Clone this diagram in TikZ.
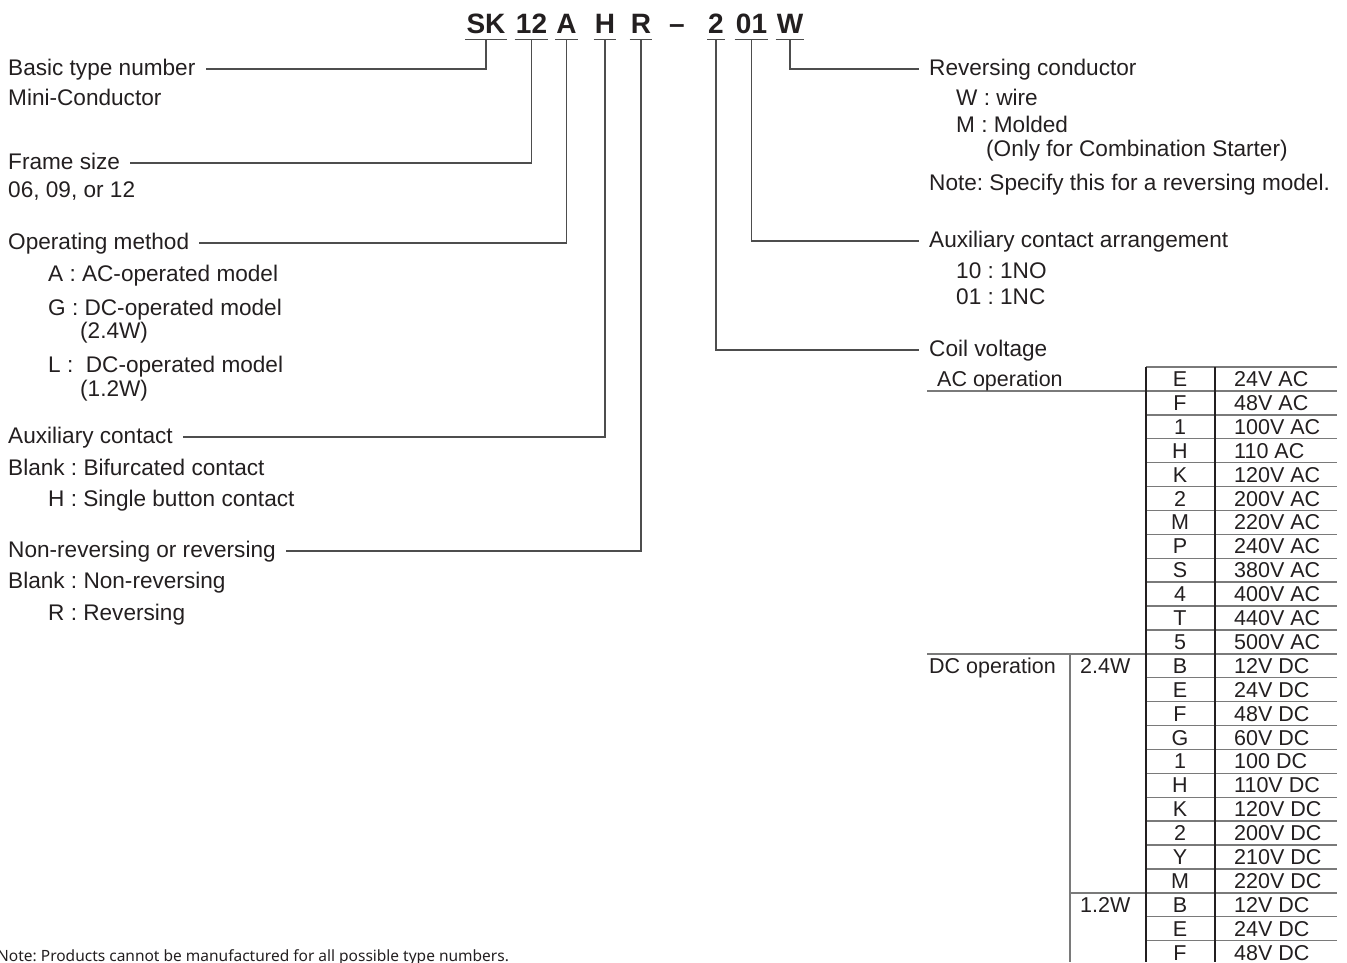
\documentclass[tikz,border=0pt]{standalone}
\usepackage{fontspec}
\setmainfont{Liberation Sans}
\newfontfamily\notefont{Noto Sans}
\usetikzlibrary{calc}
\definecolor{txt}{HTML}{231F20}
\definecolor{ln}{HTML}{4D4D4D}
\definecolor{tl}{HTML}{7A7A7A}
\frenchspacing
\begin{document}
\frenchspacing
\begin{tikzpicture}[x=1pt,y=-1pt,
  font=\fontsize{22.6}{26}\selectfont, text=txt,
  lab/.style={anchor=base west, inner xsep=10pt, inner ysep=0pt, text height=16pt, text depth=4pt},
  plain/.style={anchor=base west, inner sep=0pt},
  head/.style={anchor=base, font=\fontsize{28}{30}\selectfont\bfseries, inner xsep=1pt, inner ysep=6pt, text depth=0pt},
  leader/.style={draw=ln, line width=1.2pt},
  tline/.style={draw=tl, line width=1.4pt},
  vline/.style={draw=txt, line width=1.4pt},
  cell/.style={font=\fontsize{21.5}{24}\selectfont, inner sep=0pt, anchor=base},
  cellv/.style={font=\fontsize{21.5}{24}\selectfont, inner sep=0pt, anchor=base west}]
\useasboundingbox (0,0) rectangle (1347,962);
\clip (0,0) rectangle (1347,962);

% heading
\node[head] (hSK) at (486,33) {SK};
\node[head] (h12) at (531.5,33) {12};
\node[head] (hA) at (566.5,33) {A};
\node[head] (hH) at (605,33) {H};
\node[head] (hR) at (641,33) {R};
\node[head, inner ysep=0pt] (hD) at (677,33) {–};
\node[head] (h2) at (716,33) {2};
\node[head] (h01) at (751.5,33) {01};
\node[head] (hW) at (790,33) {W};
\foreach \h in {hSK,h12,hA,hH,hR,h2,h01,hW}
  \draw[leader] (\h.south west) -- (\h.south east);

% left labels
\node[lab] (lBasic) at (-2,75) {Basic type number};
\node[plain] (tMini) at (8,105) {Mini-Conductor};
\node[lab] (lFrame) at (-2,169) {Frame size};
\node[plain] (tFrame) at (8,197) {06, 09, or 12};
\node[lab] (lOper) at (-2,249) {Operating method};
\node[plain] (tA) at (48,281) {A : AC-operated model};
\node[plain] (tG) at (48,315) {G : DC-operated model};
\node[plain] (tG2) at (80,338) {(2.4W)};
\node[plain] (tL) at (48,372) {L :\ \ DC-operated model};
\node[plain] (tL2) at (80,396) {(1.2W)};
\node[lab] (lAux) at (-2,443) {Auxiliary contact};
\node[plain] (tBif) at (8,475) {Blank : Bifurcated contact};
\node[plain] (tSgl) at (48,506) {H : Single button contact};
\node[lab] (lRev) at (-2,557) {Non-reversing or reversing};
\node[plain] (tNon) at (8,588) {Blank : Non-reversing};
\node[plain] (tRv) at (48,620) {R : Reversing};

% right labels
\node[lab] (rRev) at (919,75) {Reversing conductor};
\node[plain] (tW) at (956,105) {W : wire};
\node[plain] (tM) at (956,132) {M : Molded};
\node[plain] (tM2) at (986,156) {(Only for Combination Starter)};
\node[plain] (tNote) at (929,190) {Note: Specify this for a reversing model.};
\node[lab] (rAux) at (919,247) {Auxiliary contact arrangement};
\node[plain] (t10) at (956,278) {10 : 1NO};
\node[plain] (t01) at (956,304) {01 : 1NC};
\node[lab] (rCoil) at (919,356) {Coil voltage};

% connectors
\draw[leader] (hSK.south) |- (lBasic.east);
\draw[leader] (h12.south) |- (lFrame.east);
\draw[leader] (hA.south) |- (lOper.east);
\draw[leader] (hH.south) |- (lAux.east);
\draw[leader] (hR.south) |- (lRev.east);
\draw[leader] (hW.south) |- (rRev.west);
\draw[leader] (h01.south) |- (rAux.west);
\draw[leader] (h2.south) |- (rCoil.west);

% table
\def\rh{23.9}
\draw[tline] (1146,367) -- (1337,367);
\draw[tline] (927,{367+\rh}) -- (1146,{367+\rh});
\draw[tline] (927,{367+12*\rh}) -- (1146,{367+12*\rh});
\draw[tline] (1070,{367+22*\rh}) -- (1146,{367+22*\rh});
\node[cellv] (tAC) at (937,{367+19.5}) {AC operation};
\node[cellv] (tDC) at (929,{367+12*\rh+19.5}) {DC operation};
\node[cellv] (t24) at (1080,{367+12*\rh+19.5}) {2.4W};
\node[cellv] (t12) at (1080,{367+22*\rh+19.5}) {1.2W};
\foreach \l/\v [count=\i from 0] in {E/24V AC,F/48V AC,1/100V AC,H/110 AC,K/120V AC,2/200V AC,M/220V AC,P/240V AC,S/380V AC,4/400V AC,T/440V AC,5/500V AC,B/12V DC,E/24V DC,F/48V DC,G/60V DC,1/100 DC,H/110V DC,K/120V DC,2/200V DC,Y/210V DC,M/220V DC,B/12V DC,E/24V DC,F/48V DC}{
  \node[cell] at (1180,{367+\rh*\i+19.5}) {\l};
  \node[cellv] at (1234,{367+\rh*\i+19.5}) {\v};
  \draw[tline] (1146,{367+\rh*(\i+1)}) -- (1337,{367+\rh*(\i+1)});
}
\draw[vline] (1146,367) -- (1146,962);
\draw[vline] (1215,367) -- (1215,962);
\draw[tline] (1070,{367+12*\rh}) -- (1070,962);

% bottom note
\node[plain, font=\notefont\fontsize{15.5}{18}\selectfont] (bNote) at (-3,961) {Note: Products cannot be manufactured for all possible type numbers.};
\end{tikzpicture}
\end{document}
